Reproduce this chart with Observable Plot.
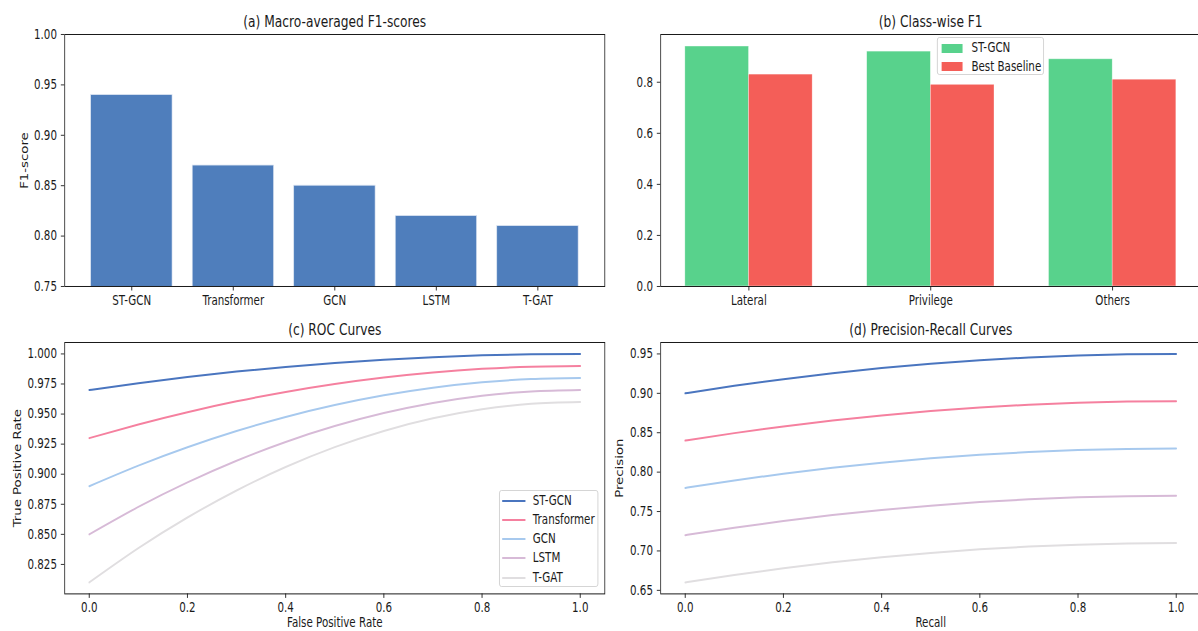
<!DOCTYPE html>
<html><head><meta charset="utf-8">
<script src="https://cdn.jsdelivr.net/npm/d3@7"></script>
<script src="https://cdn.jsdelivr.net/npm/@observablehq/plot@0.6"></script>
<style>
html,body{margin:0;padding:0;background:#fff;overflow:hidden;}
#fig{position:relative;width:1546px;height:631px;transform:scaleX(0.775);transform-origin:0 0;font-family:"DejaVu Sans",sans-serif;color:#1a1a1a;}
.panel{position:absolute;}
.legend{position:absolute;box-sizing:border-box;border:1px solid #d0d0d0;border-radius:3px;background:rgba(255,255,255,0.8);font-size:13.3px;}
.legend .sw{position:absolute;}
.legend .lb{position:absolute;white-space:nowrap;line-height:1;transform:translateY(-50%);}
</style></head><body><div id="fig"></div><script>
// ---------- data ----------
const modelNames = ["ST-GCN", "Transformer", "GCN", "LSTM", "T-GAT"];
const macroF1 = [0.94, 0.87, 0.85, 0.82, 0.81];
const f1Ticks = [0.75, 0.80, 0.85, 0.90, 0.95, 1.00];

const classNames = ["Lateral", "Privilege", "Others"];
const classF1STGCN = [0.94, 0.92, 0.89];
const classF1Baseline = [0.83, 0.79, 0.81];
const classSeries = ["ST-GCN", "Best Baseline"];
const classTicks = [0, 0.2, 0.4, 0.6, 0.8];

const rocFPR = [0, 0.1, 0.2, 0.3, 0.4, 0.5, 0.6, 0.7, 0.8, 0.9, 1.0];
const rocSTGCN = [0.970, 0.9757, 0.9808, 0.9853, 0.9892, 0.9925, 0.9952, 0.9973, 0.9988, 0.9997, 1.000];
const rocTransformer = [0.930, 0.9414, 0.9516, 0.9606, 0.9684, 0.9750, 0.9804, 0.9846, 0.9876, 0.9894, 0.990];
const rocGCN = [0.890, 0.9071, 0.9224, 0.9359, 0.9476, 0.9575, 0.9656, 0.9719, 0.9764, 0.9791, 0.980];
const rocLSTM = [0.850, 0.8728, 0.8932, 0.9112, 0.9268, 0.9400, 0.9508, 0.9592, 0.9652, 0.9688, 0.970];
const rocTGAT = [0.810, 0.8385, 0.8640, 0.8865, 0.9060, 0.9225, 0.9360, 0.9465, 0.9540, 0.9585, 0.960];
const rocTicks = [0.825, 0.850, 0.875, 0.900, 0.925, 0.950, 0.975, 1.000];

const prRecall = [0, 0.1, 0.2, 0.3, 0.4, 0.5, 0.6, 0.7, 0.8, 0.9, 1.0];
const prSTGCN = [0.900, 0.9095, 0.918, 0.9255, 0.932, 0.9375, 0.942, 0.9455, 0.948, 0.9495, 0.950];
const prTransformer = [0.840, 0.8495, 0.858, 0.8655, 0.872, 0.8775, 0.882, 0.8855, 0.888, 0.8895, 0.890];
const prGCN = [0.780, 0.7895, 0.798, 0.8055, 0.812, 0.8175, 0.822, 0.8255, 0.828, 0.8295, 0.830];
const prLSTM = [0.720, 0.7295, 0.738, 0.7455, 0.752, 0.7575, 0.762, 0.7655, 0.768, 0.7695, 0.770];
const prTGAT = [0.660, 0.6695, 0.678, 0.6855, 0.692, 0.6975, 0.702, 0.7055, 0.708, 0.7095, 0.710];
const prTicks = [0.65, 0.70, 0.75, 0.80, 0.85, 0.90, 0.95];
const unitTicks = [0, 0.2, 0.4, 0.6, 0.8, 1.0];

// ---------- style ----------
const barBlue = "#4f7ebc";
const classColors = ["#58d28c", "#f45e58"];
const lineColors = ["#4a75bf", "#f5809f", "#a7c9ee", "#d7bad7", "#e0dee0"];
const FS = 13.3, TFS = 15.8;

// ---------- layout (design units, container is squeezed horizontally) ----------
const AW = 696.9;
const colLeft = [82.8, 852.3];
const rowTop = [33.7, 342.3];
const rowH = [252, 251.4];
const ML = 90, MR = 10, MT = 40, MB = 45;

const fig = document.getElementById("fig");
function place(svg, col, row) {
  svg.classList.add("panel");
  svg.style.left = (colLeft[col] - ML) + "px";
  svg.style.top = (rowTop[row] - MT) + "px";
  fig.appendChild(svg);
}
function base(row) {
  return {
    width: ML + AW + MR, height: MT + rowH[row] + MB,
    marginLeft: ML, marginRight: MR, marginTop: MT, marginBottom: MB,
    style: {background: "none", overflow: "visible", fontFamily: "DejaVu Sans, sans-serif", fontSize: FS + "px", color: "#1a1a1a"}
  };
}
const titleMark = (t, dy) => Plot.text([t], {frameAnchor: "top", dy: -dy, fontSize: TFS, lineAnchor: "middle"});
const yLabelMark = (t, off) => Plot.text([t], {frameAnchor: "left", dx: -off, rotate: -90, textAnchor: "middle", lineAnchor: "middle", fontSize: FS});
const xLabelMark = (t, off) => Plot.text([t], {frameAnchor: "bottom", dy: off, lineAnchor: "middle", fontSize: FS});
const frameMark = () => Plot.frame({stroke: "#1a1a1a", strokeWidth: 1});

// (a) Macro-averaged F1
const macroRows = modelNames.map((m, i) => ({model: m, f1: macroF1[i]}));
place(Plot.plot({
  ...base(0),
  x: {type: "band", domain: modelNames, paddingInner: 0.2, paddingOuter: 0.24, label: null, tickSize: 4.5, tickPadding: 4.5},
  y: {domain: [0.75, 1.0], ticks: f1Ticks, tickFormat: ".2f", label: null, tickSize: 4.5, tickPadding: 5.5},
  marks: [
    Plot.barY(macroRows, {x: "model", y: "f1", fill: barBlue, stroke: "#dfe7f3", strokeWidth: 0.8, clip: true}),
    frameMark(),
    titleMark("(a) Macro-averaged F1-scores", 13),
    yLabelMark("F1-score", 51.8)
  ]
}), 0, 0);

// (b) Class-wise F1
const barW = 0.35;
const classRows = classNames.flatMap((c, i) => [
  {i, series: classSeries[0], v: classF1STGCN[i], x1: i - barW, x2: i},
  {i, series: classSeries[1], v: classF1Baseline[i], x1: i, x2: i + barW}
]);
const classIdx = classNames.map((_, i) => i);
place(Plot.plot({
  ...base(0),
  x: {domain: [-0.485, 2.485], ticks: classIdx, tickFormat: i => classNames[i], label: null, tickSize: 4.5, tickPadding: 4.5},
  y: {domain: [0, 0.987], ticks: classTicks, tickFormat: ".1f", label: null, tickSize: 4.5, tickPadding: 5.5},
  color: {domain: classSeries, range: classColors},
  marks: [
    Plot.rectY(classRows, {x1: "x1", x2: "x2", y: "v", fill: "series", stroke: "#ffffff", strokeOpacity: 0.5, strokeWidth: 0.8}),
    frameMark(),
    titleMark("(b) Class-wise F1", 13)
  ]
}), 1, 0);

// (c) ROC curves
const rocSeries = [rocSTGCN, rocTransformer, rocGCN, rocLSTM, rocTGAT];
const rocRows = modelNames.flatMap((m, k) => rocFPR.map((x, j) => ({model: m, x, y: rocSeries[k][j]})));
place(Plot.plot({
  ...base(1),
  x: {domain: [-0.05, 1.05], ticks: unitTicks, tickFormat: ".1f", label: null, tickSize: 4.5, tickPadding: 4.5},
  y: {domain: [0.8005, 1.0095], ticks: rocTicks, tickFormat: ".3f", label: null, tickSize: 4.5, tickPadding: 5.5},
  color: {domain: modelNames, range: lineColors},
  marks: [
    Plot.line(rocRows, {x: "x", y: "y", z: "model", stroke: "model", strokeWidth: 2, curve: "natural"}),
    frameMark(),
    titleMark("(c) ROC Curves", 12.6),
    yLabelMark("True Positive Rate", 60.6),
    xLabelMark("False Positive Rate", 28.5)
  ]
}), 0, 1);

// (d) Precision-Recall curves
const prSeries = [prSTGCN, prTransformer, prGCN, prLSTM, prTGAT];
const prRows = modelNames.flatMap((m, k) => prRecall.map((x, j) => ({model: m, x, y: prSeries[k][j]})));
place(Plot.plot({
  ...base(1),
  x: {domain: [-0.05, 1.05], ticks: unitTicks, tickFormat: ".1f", label: null, tickSize: 4.5, tickPadding: 4.5},
  y: {domain: [0.6455, 0.9645], ticks: prTicks, tickFormat: ".2f", label: null, tickSize: 4.5, tickPadding: 5.5},
  color: {domain: modelNames, range: lineColors},
  marks: [
    Plot.line(prRows, {x: "x", y: "y", z: "model", stroke: "model", strokeWidth: 2, curve: "natural"}),
    frameMark(),
    titleMark("(d) Precision-Recall Curves", 12.6),
    yLabelMark("Precision", 52.6),
    xLabelMark("Recall", 28.5)
  ]
}), 1, 1);

// ---------- legends (HTML) ----------
function legend(box, items, swatch) {
  const el = document.createElement("div");
  el.className = "legend";
  Object.assign(el.style, {left: box.left + "px", top: box.top + "px", width: box.width + "px", height: box.height + "px"});
  items.forEach((it, k) => {
    const cy = box.rows[k];
    const sw = document.createElement("div");
    sw.className = "sw";
    Object.assign(sw.style, {left: swatch.x + "px", width: swatch.w + "px", top: (cy - swatch.h / 2) + "px", height: swatch.h + "px", background: it.color});
    const lb = document.createElement("div");
    lb.className = "lb";
    lb.textContent = it.label;
    Object.assign(lb.style, {left: box.textX + "px", top: cy + "px"});
    el.appendChild(sw); el.appendChild(lb);
  });
  fig.appendChild(el);
}
legend({left: 1209.4, top: 36.7, width: 137.6, height: 38.3, rows: [10.6, 29.0], textX: 43.1},
  classSeries.map((s, k) => ({label: s, color: classColors[k]})), {x: 4.8, w: 26.7, h: 9.3});
legend({left: 643.9, top: 490, width: 128, height: 97, rows: [10, 29.3, 48.3, 67.3, 86.7], textX: 42.6},
  modelNames.map((s, k) => ({label: s, color: lineColors[k]})), {x: 3.5, w: 30, h: 2});
</script></body></html>
